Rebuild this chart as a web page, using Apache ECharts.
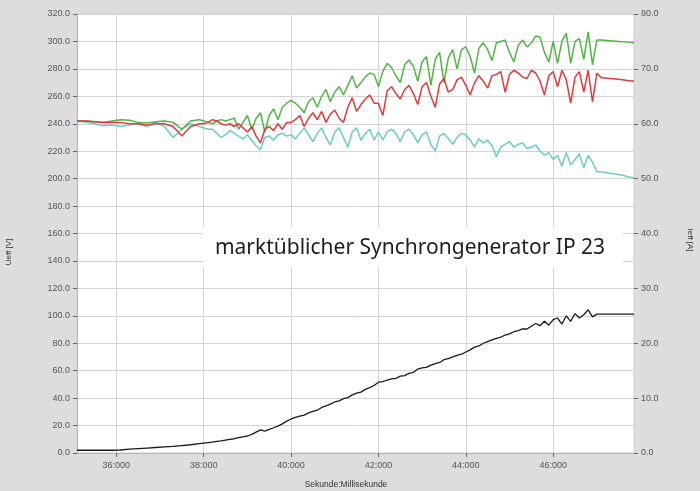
<!DOCTYPE html>
<html><head><meta charset="utf-8">
<script src="https://cdn.jsdelivr.net/npm/echarts@6/dist/echarts.min.js"></script>
<style>html,body{margin:0;padding:0;background:#dddddd}#c{width:700px;height:491px}</style>
</head><body><div id="c"></div><script>
// time in milliseconds (Sekunde:Millisekunde)
const times = [
  35100, 35300, 35500, 35700, 35900, 36100, 36300, 36500, 36700, 36900, 37100, 37300, 37500, 37700, 37900,
  38000, 38100, 38200, 38300, 38400, 38500, 38600, 38700, 38800, 38900,
  39000, 39100, 39200, 39300, 39400, 39500, 39600, 39700, 39800, 39900,
  40000, 40100, 40200, 40300, 40400, 40500, 40600, 40700, 40800, 40900,
  41000, 41100, 41200, 41300, 41400, 41500, 41600, 41700, 41800, 41900,
  42000, 42100, 42200, 42300, 42400, 42500, 42600, 42700, 42800, 42900,
  43000, 43100, 43200, 43300, 43400, 43500, 43600, 43700, 43800, 43900,
  44000, 44100, 44200, 44300, 44400, 44500, 44600, 44700, 44800, 44900,
  45000, 45100, 45200, 45300, 45400, 45500, 45600, 45700, 45800, 45900,
  46000, 46100, 46200, 46300, 46400, 46500, 46600, 46700, 46800, 46900,
  47000, 47100, 47300, 47500, 47700, 47850
];
// Ueff [V] green
const ueffGreen = [
  242.2, 242, 241.5, 241, 242, 243, 242.5, 241, 240.5, 241.5, 242, 241, 236, 242, 243,
  242, 241, 240, 242, 243, 242, 243, 244, 236, 241,
  246, 236, 244, 248, 234, 246, 251, 243, 252, 255,
  257, 255, 252, 248, 256, 259, 252, 260, 265, 256,
  263, 267, 261, 268, 275, 266, 270, 274, 277, 276,
  267, 278, 284, 281, 275, 270, 283, 286.5, 282, 271,
  285, 289, 268, 287, 292, 270, 288, 294, 280, 294,
  296, 289, 277, 295, 299, 294, 286, 299, 300, 301,
  292, 285, 297, 301, 296, 299, 304, 303, 292, 285,
  300, 284, 300, 306, 284, 300, 302, 287, 307, 283,
  301, 301, 300.5, 300, 299.5, 299
];
// Ueff [V] red
const ueffRed = [
  242, 242, 241.5, 241, 241, 241, 240, 240, 239, 240, 240, 238, 231, 238, 240,
  240, 241, 243, 242, 240, 239, 240, 238, 240, 237,
  234, 238, 231, 226, 236, 238, 235, 240, 236, 241,
  241, 243, 246, 238, 244, 248, 243, 249, 241, 247,
  250, 244, 241, 252, 259, 249, 254, 258, 261, 255,
  255, 246, 264, 267, 262, 258, 265, 268, 262, 254,
  267, 270, 260, 252, 269, 273, 263, 265, 272, 274,
  268, 261, 270, 275, 271, 266, 275, 276, 278, 263,
  276, 279, 277, 274, 273, 279, 277, 271, 261, 275,
  278, 267, 279, 272, 255, 274, 278, 263, 279, 256,
  277, 273.5, 273, 272.5, 271.5, 271
];
// Ueff [V] cyan
const ueffCyan = [
  242, 241, 240, 238.5, 239, 238, 239, 240, 238, 241, 238, 230, 236, 240, 238,
  237, 236, 236, 233, 230, 232, 235, 233, 231, 229,
  232, 228, 224, 221, 230, 231, 228, 232, 233, 231,
  232, 229, 233, 237, 232, 227, 233, 237, 230, 224.5,
  234, 237, 230, 223, 234, 237, 228, 233, 236, 228,
  234, 228, 234, 236, 233, 227, 234, 236, 232, 226,
  232, 234, 225, 220, 231, 233, 229, 225, 230, 233,
  232, 228, 223, 229, 226, 228, 224, 216, 223, 225,
  227, 223, 225, 226, 222, 223, 224.5, 220, 217, 219,
  214, 217, 209, 219, 210, 214, 218, 208, 217, 212,
  205, 205, 204, 203, 201.5, 200.5
];
// Ieff [A] black
const ieffBlack = [
  0.5, 0.5, 0.5, 0.5, 0.5, 0.55, 0.7, 0.8, 0.9, 1.0, 1.1, 1.2, 1.35, 1.5, 1.7,
  1.8, 1.9, 2.0, 2.1, 2.2, 2.35, 2.5, 2.6, 2.8, 2.95,
  3.1, 3.4, 3.8, 4.2, 4.0, 4.3, 4.6, 4.9, 5.3, 5.8,
  6.2, 6.5, 6.7, 6.9, 7.3, 7.6, 7.8, 8.3, 8.6, 8.9,
  9.3, 9.5, 9.9, 10.1, 10.6, 10.9, 11.1, 11.6, 11.9, 12.3,
  12.9, 13.0, 13.3, 13.5, 13.6, 14.0, 14.1, 14.5, 14.7, 15.3,
  15.5, 15.6, 16.0, 16.3, 16.5, 17.0, 17.2, 17.5, 17.8, 18.0,
  18.4, 18.8, 19.3, 19.5, 20.0, 20.3, 20.6, 20.9, 21.1, 21.5,
  21.7, 22.1, 22.3, 22.6, 22.6, 23.1, 23.6, 23.2, 24.0, 23.3,
  24.3, 24.6, 23.5, 25.0, 24.0, 25.4, 24.6, 25.2, 26.1, 24.8,
  25.3, 25.3, 25.3, 25.3, 25.3, 25.3
];
const xTickValues = [36000, 38000, 40000, 42000, 44000, 46000];
const annotation = 'marktüblicher Synchrongenerator IP 23';
const leftAxisName = 'Ueff [V]';
const rightAxisName = 'Ieff [A]';
const xAxisName = 'Sekunde:Millisekunde';

function fmtTime(v) {
  const s = Math.floor(v / 1000);
  const ms = Math.round(v - s * 1000);
  return s + ':' + String(ms).padStart(3, '0');
}
const pairs = arr => times.map((t, i) => [t, arr[i]]);

const chart = echarts.init(document.getElementById('c'), null, {renderer: 'canvas'});
const labelStyle = {fontFamily: 'Liberation Sans, Arial, sans-serif', fontSize: 9, color: '#555'};
const option = {
  backgroundColor: '#dddddd',
  animation: false,
  textStyle: {fontFamily: 'Liberation Sans, Arial, sans-serif'},
  grid: {left: 77, right: 66, top: 14, bottom: 38, show: true, backgroundColor: '#ffffff', borderColor: '#cfcfcf', borderWidth: 1},
  xAxis: {
    type: 'value', min: 35100, max: 47850,
    axisLine: {show: true, lineStyle: {color: '#b5b5b5'}},
    axisTick: {show: true, customValues: xTickValues, length: 4, lineStyle: {color: '#666'}},
    axisLabel: Object.assign({customValues: xTickValues, formatter: fmtTime, margin: 8}, labelStyle),
    splitLine: {show: true, lineStyle: {color: '#d4d4d4', width: 1}}
  },
  yAxis: [
    {
      type: 'value', min: 0, max: 320, interval: 20, position: 'left',
      axisLine: {show: true, lineStyle: {color: '#b5b5b5'}},
      axisTick: {show: true, length: 4, lineStyle: {color: '#666'}},
      axisLabel: Object.assign({formatter: v => v.toFixed(1), margin: 7}, labelStyle),
      splitLine: {show: true, lineStyle: {color: '#d4d4d4', width: 1}}
    },
    {
      type: 'value', min: 0, max: 80, interval: 10, position: 'right',
      axisLine: {show: false},
      axisTick: {show: true, length: 4, lineStyle: {color: '#666'}},
      axisLabel: Object.assign({formatter: v => v.toFixed(1), margin: 7}, labelStyle),
      splitLine: {show: false}
    }
  ],
  series: [
    {name: 'cyan', type: 'line', yAxisIndex: 0, data: pairs(ueffCyan), showSymbol: false, lineStyle: {color: '#6ccaca', width: 1.5}, z: 2},
    {name: 'green', type: 'line', yAxisIndex: 0, data: pairs(ueffGreen), showSymbol: false, lineStyle: {color: '#52b447', width: 1.5}, z: 3},
    {name: 'red', type: 'line', yAxisIndex: 0, data: pairs(ueffRed), showSymbol: false, lineStyle: {color: '#e23a3a', width: 1.5}, z: 4},
    {name: 'black', type: 'line', yAxisIndex: 1, data: pairs(ieffBlack), showSymbol: false, lineStyle: {color: '#1a1a1a', width: 1.3}, z: 5}
  ],
  graphic: [
    {type: 'rect', z: 100, shape: {x: 203, y: 227, width: 420, height: 40}, style: {fill: '#ffffff'}},
    {type: 'text', z: 101, x: 410, y: 248, style: {text: annotation, fontFamily: 'Noto Sans', fontSize: 21, fill: '#1e1e1e', align: 'center', verticalAlign: 'middle'}},
    {type: 'text', z: 101, x: 9, y: 252, rotation: Math.PI / 2, style: {text: leftAxisName, fontFamily: 'Liberation Sans', fontSize: 8, fill: '#333', align: 'center', verticalAlign: 'middle'}},
    {type: 'text', z: 101, x: 690, y: 240, rotation: -Math.PI / 2, style: {text: rightAxisName, fontFamily: 'Liberation Sans', fontSize: 8, fill: '#333', align: 'center', verticalAlign: 'middle'}},
    {type: 'text', z: 101, x: 346, y: 485, style: {text: xAxisName, fontFamily: 'Liberation Sans', fontSize: 8.5, fill: '#333', align: 'center', verticalAlign: 'middle'}}
  ]
};
chart.setOption(option);
</script></body></html>
